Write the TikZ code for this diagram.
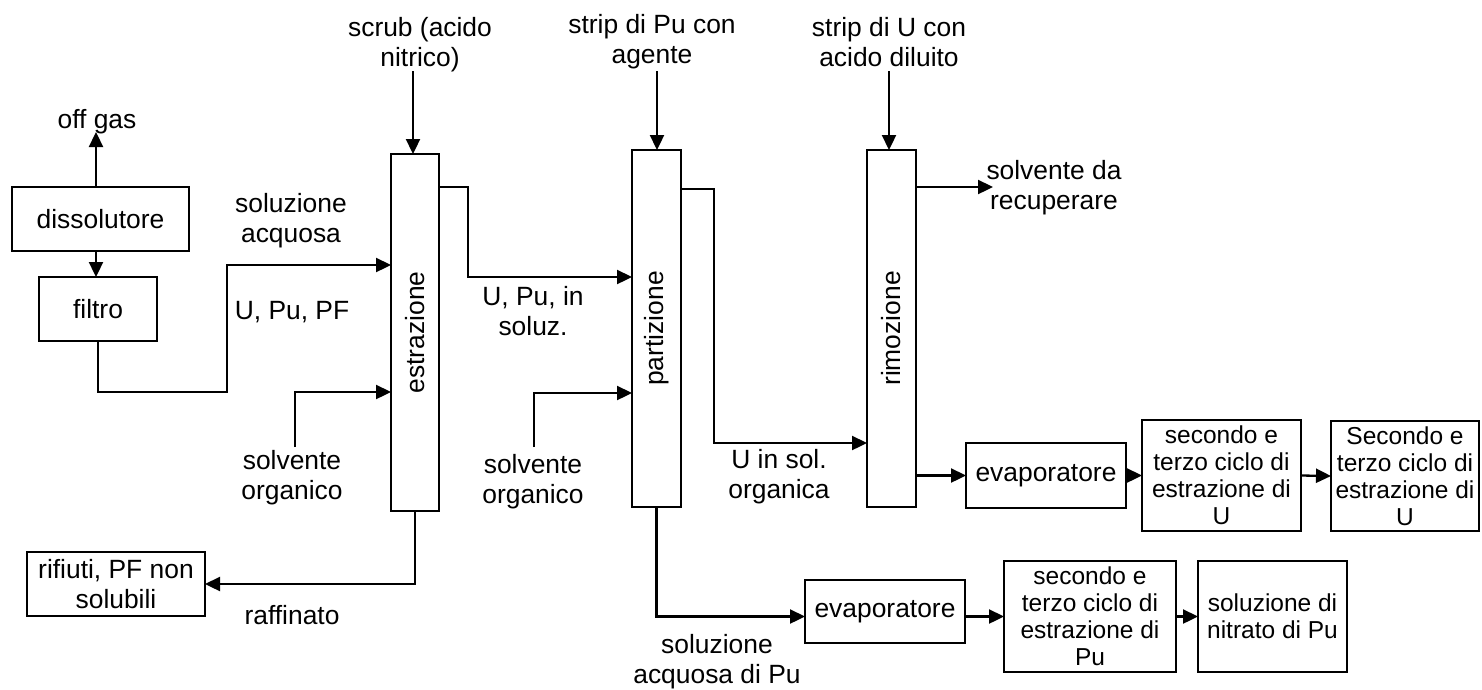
\documentclass[tikz,border=0pt]{standalone}
\usepackage{fontspec}
\setmainfont{Liberation Sans}
\usetikzlibrary{arrows.meta}
\begin{document}
\begin{tikzpicture}[x=1pt,y=-1pt,
  every node/.style={font=\fontsize{26.4}{30}\selectfont, inner sep=0pt, outer sep=0pt},
  blk/.style={draw, line width=2.3pt, align=center},
  tight/.style={font=\fontsize{24.5}{27}\selectfont},
  lbl/.style={align=center},
  flow/.style={line width=2.3pt, -{Triangle[length=15pt,width=14pt]}}
]
\useasboundingbox (0,0) rectangle (1482,689);

% process units
\node[blk, minimum width=177pt, minimum height=64pt] (diss) at (100.5,219) {dissolutore};
\node[blk, minimum width=118pt, minimum height=64pt] (filtro) at (98,309) {filtro};
\node[blk, minimum width=178pt, minimum height=64pt] (rif) at (116,584) {rifiuti, PF non\\solubili};
\node[blk, minimum width=48pt, minimum height=357pt] (estr) at (415,332.5) {};
\node[blk, minimum width=49pt, minimum height=357pt] (partz) at (656.5,328.5) {};
\node[blk, minimum width=49pt, minimum height=357pt] (rimoz) at (891.5,328.5) {};
\node[rotate=90] (estrT) at (estr.center) {estrazione};
\node[rotate=90] (partzT) at (partz.center) {partizione};
\node[rotate=90] (rimozT) at (rimoz.center) {rimozione};
\node[blk, minimum width=160pt, minimum height=65pt] (evapU) at (1046,475.5) {evaporatore};
\node[blk, tight, minimum width=159pt, minimum height=111pt] (secU) at (1221.5,475.5) {secondo e\\terzo ciclo di\\estrazione di\\U};
\node[blk, tight, minimum width=148pt, minimum height=110pt] (secU2) at (1405,476) {Secondo e\\terzo ciclo di\\estrazione di\\U};
\node[blk, minimum width=160pt, minimum height=63pt] (evapPu) at (885,611.5) {evaporatore};
\node[blk, tight, minimum width=172pt, minimum height=111pt] (secPu) at (1090,616.5) {secondo e\\terzo ciclo di\\estrazione di\\Pu};
\node[blk, tight, minimum width=149pt, minimum height=111pt] (nitr) at (1272.5,616.5) {soluzione di\\nitrato di Pu};

% stream labels
\node[lbl] (lOff) at (97,122) {off gas};
\node[lbl] (lAq) at (291,221) {soluzione\\acquosa};
\node[lbl] (lUPu) at (292,312) {U, Pu, PF};
\node[lbl] (lSo1) at (292,478) {solvente\\organico};
\node[lbl] (lRaf) at (292,615) {raffinato};
\node[lbl] (lScrub) at (420,45) {scrub (acido\\nitrico)};
\node[lbl] (lStPu) at (652,42) {strip di Pu con\\agente};
\node[lbl] (lStU) at (889,42) {strip di U con\\acido diluito};
\node[lbl] (lSol) at (533,311) {U, Pu, in\\soluz.};
\node[lbl] (lSo2) at (533,482) {solvente\\organico};
\node[lbl] (lUorg) at (779,477) {U in sol.\\organica};
\node[lbl] (lRec) at (1054,188) {solvente da\\recuperare};
\node[lbl] (lAqPu) at (717,662) {soluzione\\acquosa di Pu};

% bends and free ends of the streams
\coordinate (og) at (96,132);
\coordinate (j1) at (227,392);
\coordinate (inAq) at (391,265);
\coordinate (so1) at (295,447);
\coordinate (s1b) at (295,392);
\coordinate (sc) at (413,71);
\coordinate (spu) at (657,71);
\coordinate (su) at (889,71);
\coordinate (e1) at (468,187);
\coordinate (e2) at (468,277);
\coordinate (p1) at (714,189);
\coordinate (p2) at (714,443);
\coordinate (so2) at (534,447);
\coordinate (s2b) at (534,393);
\coordinate (r1) at (993,187);

% connectors
\draw[flow] (diss.north -| og) -- (og);
\draw[flow] (diss.south -| og) -- (og |- filtro.north);
\draw[flow] (filtro.south) |- (j1) |- (inAq);
\draw[flow] (so1) -- (s1b) -- (estr.west |- s1b);
\draw[flow] (sc) -- (sc |- estr.north);
\draw[flow] (spu) -- (spu |- partz.north);
\draw[flow] (su) -- (su |- rimoz.north);
\draw[flow] (estr.east |- e1) -- (e1) -- (e2) -- (partz.west |- e2);
\draw[flow] (so2) -- (s2b) -- (partz.west |- s2b);
\draw[flow] (partz.east |- p1) -- (p1) -- (p2) -- (rimoz.west |- p2);
\draw[flow] (rimoz.east |- r1) -- (r1);
\draw[flow] (estr.south) |- (rif.east);
\draw[flow] (rimoz.east |- evapU.west) -- (evapU.west);
\draw[flow] (evapU.east) -- (secU.west);
\draw[flow] (secU.east) -- (secU2.west);
\draw[flow] (partz.south) |- (evapPu.west |- secPu.west);
\draw[flow] (evapPu.east |- secPu.west) -- (secPu.west);
\draw[flow] (secPu.east) -- (nitr.west);
\end{tikzpicture}
\end{document}
